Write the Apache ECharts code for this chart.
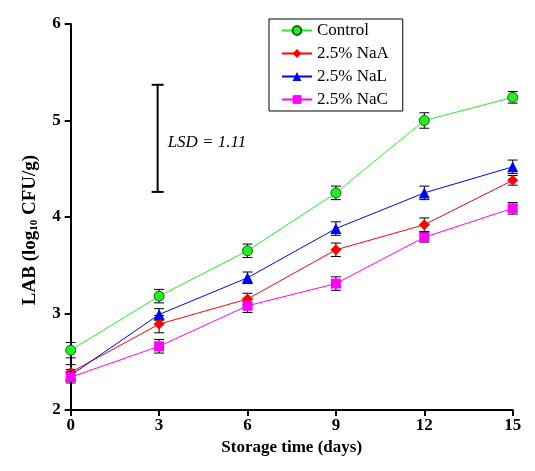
<!DOCTYPE html>
<html><head><meta charset="utf-8">
<script src="https://cdn.jsdelivr.net/npm/echarts@6/dist/echarts.min.js"></script>
<style>html,body{margin:0;padding:0;background:#fff}#c{width:535px;height:471px}</style>
</head><body><div id="c"></div>
<script>
const days = [0, 3, 6, 9, 12, 15];
const xTicks = [0, 3, 6, 9, 12, 15];
const yTicks = [2, 3, 4, 5, 6];
const seriesNames = ['Control', '2.5% NaA', '2.5% NaL', '2.5% NaC'];
const control = [2.62, 3.18, 3.65, 4.25, 5.00, 5.24];
const naA = [2.39, 2.89, 3.15, 3.66, 3.92, 4.38];
const naL = [2.36, 2.99, 3.37, 3.88, 4.25, 4.52];
const naC = [2.34, 2.66, 3.08, 3.31, 3.79, 4.09];
const controlErr = [0.08, 0.07, 0.07, 0.07, 0.08, 0.06];
const naAErr = [0.08, 0.09, 0.06, 0.07, 0.07, 0.05];
const naLErr = [0.06, 0.06, 0.06, 0.07, 0.07, 0.07];
const naCErr = [0.06, 0.07, 0.07, 0.07, 0.05, 0.06];
const lsdX = 2.95, lsdLow = 4.26, lsdHigh = 5.37, lsdText = 'LSD = 1.11', lsdTextY = 4.77;

const colors = ['#22ee22', '#ff0000', '#0000ff', '#ff00ff'];
const borders = ['#116611', '#ff0000', '#0000ff', '#ff00ff'];
const symbols = ['circle', 'diamond', 'triangle', 'rect'];
const symSizes = [10, 11, 11, 10];
const values = [control, naA, naL, naC];
const errs = [controlErr, naAErr, naLErr, naCErr];
const serif = 'Liberation Serif';

const chart = echarts.init(document.getElementById('c'));
const series = [];
values.forEach((vals, i) => {
  series.push({
    name: seriesNames[i], type: 'line', z: 5,
    data: days.map((d, j) => [d, vals[j]]),
    symbol: symbols[i], symbolSize: symSizes[i],
    itemStyle: { color: colors[i], borderColor: borders[i], borderWidth: i === 0 ? 1 : 0 },
    lineStyle: { color: colors[i], width: 1 },
    emphasis: { disabled: true }, animation: false
  });
  series.push({
    type: 'custom', z: 3, silent: true, animation: false,
    data: days.map((d, j) => [d, vals[j] - errs[i][j], vals[j] + errs[i][j]]),
    renderItem: function (params, api) {
      const lo = api.coord([api.value(0), api.value(1)]);
      const hi = api.coord([api.value(0), api.value(2)]);
      const w = 5;
      const st = { stroke: '#000', lineWidth: 1 };
      return { type: 'group', children: [
        { type: 'line', shape: { x1: lo[0], y1: lo[1], x2: hi[0], y2: hi[1] }, style: st },
        { type: 'line', shape: { x1: lo[0] - w, y1: lo[1], x2: lo[0] + w, y2: lo[1] }, style: st },
        { type: 'line', shape: { x1: hi[0] - w, y1: hi[1], x2: hi[0] + w, y2: hi[1] }, style: st }
      ]};
    }
  });
});
series.push({
  type: 'custom', z: 3, silent: true, animation: false,
  data: [[lsdX, lsdLow, lsdHigh, lsdTextY]],
  renderItem: function (params, api) {
    const lo = api.coord([api.value(0), api.value(1)]);
    const hi = api.coord([api.value(0), api.value(2)]);
    const t = api.coord([api.value(0), api.value(3)]);
    const w = 6;
    const st = { stroke: '#000', lineWidth: 2 };
    return { type: 'group', children: [
      { type: 'line', shape: { x1: lo[0], y1: lo[1], x2: hi[0], y2: hi[1] }, style: st },
      { type: 'line', shape: { x1: lo[0] - w, y1: lo[1], x2: lo[0] + w, y2: lo[1] }, style: st },
      { type: 'line', shape: { x1: hi[0] - w, y1: hi[1], x2: hi[0] + w, y2: hi[1] }, style: st },
      { type: 'text', style: { text: lsdText, x: t[0] + 10, y: t[1], verticalAlign: 'middle',
        font: 'italic 17px "Liberation Serif"', fill: '#000' } }
    ]};
  }
});

chart.setOption({
  backgroundColor: '#fff',
  animation: false,
  grid: { left: 70.7, right: 22.3, top: 24, bottom: 61 },
  legend: {
    data: seriesNames, left: 269, top: 19, orient: 'vertical',
    borderColor: '#000', borderWidth: 1, padding: [3, 14, 3, 12], itemGap: 6,
    itemWidth: 30, itemHeight: 11,
    textStyle: { fontFamily: serif, fontSize: 17, color: '#000' }
  },
  xAxis: {
    type: 'value', min: 0, max: 15, interval: 3,
    name: 'Storage time (days)', nameLocation: 'middle', nameGap: 28,
    nameTextStyle: { fontFamily: serif, fontWeight: 'bold', fontSize: 17, color: '#000' },
    axisLine: { lineStyle: { color: '#000', width: 2 } },
    axisTick: { inside: false, length: 6, lineStyle: { color: '#000', width: 2 } },
    axisLabel: { fontFamily: serif, fontWeight: 'bold', fontSize: 17, color: '#000', margin: 7,
      formatter: v => xTicks.includes(v) ? String(v) : '' },
    splitLine: { show: false }
  },
  yAxis: {
    type: 'value', min: 2, max: 6, interval: 1,
    name: '{a|LAB (log}{s|10}{a| CFU/g)}', nameLocation: 'middle', nameGap: 31,
    nameTextStyle: { padding: [0, 26, 0, 0], rich: {
      a: { fontFamily: serif, fontWeight: 'bold', fontSize: 19, color: '#000' },
      s: { fontFamily: serif, fontWeight: 'bold', fontSize: 11, color: '#000', verticalAlign: 'bottom' }
    } },
    axisLine: { show: true, lineStyle: { color: '#000', width: 2 } },
    axisTick: { show: true, length: 6, lineStyle: { color: '#000', width: 2 } },
    axisLabel: { fontFamily: serif, fontWeight: 'bold', fontSize: 17, color: '#000', margin: 10,
      formatter: v => yTicks.includes(v) ? String(v) : '' },
    splitLine: { show: false }
  },
  series: series
});
</script></body></html>
